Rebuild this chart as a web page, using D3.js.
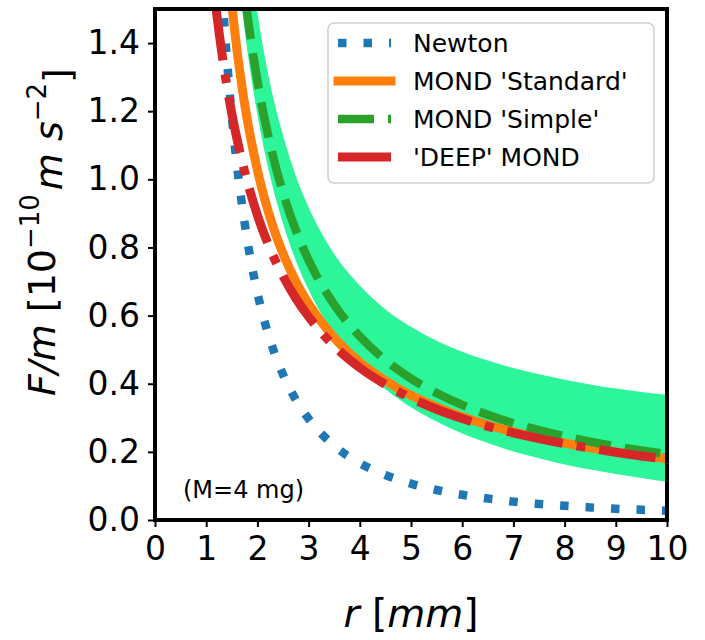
<!DOCTYPE html>
<html>
<head>
<meta charset="utf-8">
<script src="https://cdn.jsdelivr.net/npm/d3@7"></script>
<style>
  body { margin: 0; background: white; }
  text { font-family: "DejaVu Sans", sans-serif; font-weight: normal; }
</style>
</head>
<body>
<div id="chart"></div>
<script>
// radius in mm
var rValues = [1.0, 1.1, 1.2, 1.3, 1.4, 1.5, 1.6, 1.75, 2.0, 2.25, 2.5, 2.75, 3.0, 3.5, 4.0, 4.5,
  5.0, 5.5, 6.0, 6.5, 7.0, 7.5, 8.0, 8.5, 9.0, 9.5, 10.0];

// F/m values, in 1e-10 m s^-2
var newtonValues = [2.67, 2.206, 1.854, 1.580, 1.362, 1.187, 1.043, 0.872, 0.667, 0.527, 0.427, 0.353,
  0.297, 0.218, 0.167, 0.132, 0.107, 0.088, 0.074, 0.063, 0.054, 0.047, 0.042, 0.037, 0.033, 0.030, 0.027];
var standardValues = [2.890, 2.456, 2.128, 1.875, 1.675, 1.514, 1.381, 1.222, 1.027, 0.887, 0.782, 0.700,
  0.635, 0.535, 0.463, 0.409, 0.366, 0.332, 0.303, 0.279, 0.259, 0.241, 0.226, 0.212, 0.200, 0.190, 0.180];
var simpleValues = [3.567, 3.069, 2.683, 2.377, 2.129, 1.926, 1.756, 1.548, 1.289, 1.102, 0.961, 0.851,
  0.763, 0.632, 0.539, 0.469, 0.415, 0.373, 0.338, 0.309, 0.284, 0.264, 0.246, 0.230, 0.216, 0.204, 0.193];
var deepValues = [1.790, 1.627, 1.492, 1.377, 1.278, 1.193, 1.119, 1.023, 0.895, 0.795, 0.716, 0.651,
  0.597, 0.511, 0.447, 0.398, 0.358, 0.325, 0.298, 0.275, 0.256, 0.239, 0.224, 0.211, 0.199, 0.188, 0.179];

// shaded band around the 'Simple' curve
var bandUpper = [4.11, 3.53, 3.09, 2.73, 2.45, 2.21, 2.02, 1.78, 1.49, 1.28, 1.13, 1.01,
  0.918, 0.781, 0.688, 0.618, 0.567, 0.526, 0.494, 0.468, 0.446, 0.428, 0.412, 0.398, 0.386, 0.376, 0.367];
var bandLower = [3.29, 2.85, 2.50, 2.22, 1.99, 1.80, 1.64, 1.44, 1.19, 1.008, 0.870, 0.762,
  0.676, 0.545, 0.453, 0.384, 0.331, 0.289, 0.254, 0.226, 0.201, 0.181, 0.163, 0.148, 0.135, 0.123, 0.112];

var xTicks = [0, 1, 2, 3, 4, 5, 6, 7, 8, 9, 10];
var yTicks = [0.0, 0.2, 0.4, 0.6, 0.8, 1.0, 1.2, 1.4];
var seriesNames = ["Newton", "MOND 'Standard'", "MOND 'Simple'", "'DEEP' MOND"];
var noteText = "(M=4 mg)";

var width = 705;
var height = 640;
var margin = { left: 155, top: 9, right: 38, bottom: 120 };
var plotW = width - margin.left - margin.right;
var plotH = height - margin.top - margin.bottom;

var svg = d3.select("#chart")
  .append("svg")
    .attr("width", width)
    .attr("height", height);

var g = svg.append("g")
  .attr("transform", "translate(" + margin.left + "," + margin.top + ")");

var x = d3.scaleLinear().domain([0, 10]).range([0, plotW]);
var y = d3.scaleLinear().domain([0, 1.5]).range([plotH, 0]);

// clip everything to the axes box
svg.append("defs").append("clipPath")
  .attr("id", "plotclip")
  .append("rect")
    .attr("width", plotW)
    .attr("height", plotH);

var plot = g.append("g").attr("clip-path", "url(#plotclip)");

// band
var bandData = rValues.map(function (r, i) { return { r: r, lo: bandLower[i], hi: bandUpper[i] }; });
var area = d3.area()
  .x(function (d) { return x(d.r); })
  .y0(function (d) { return y(d.lo); })
  .y1(function (d) { return y(d.hi); })
  .curve(d3.curveMonotoneX);

plot.append("path")
  .datum(bandData)
  .attr("d", area)
  .attr("fill", "#2cf59a");

// the four curves
var series = [
  { name: seriesNames[0], values: newtonValues, color: "#1f77b4", lw: 8.5, dash: "8.5,17" },
  { name: seriesNames[1], values: standardValues, color: "#ff7f0e", lw: 9, dash: null },
  { name: seriesNames[2], values: simpleValues, color: "#2ca02c", lw: 8.5, dash: "36,14" },
  { name: seriesNames[3], values: deepValues, color: "#d62728", lw: 9, dash: "57,14,9,14" }
];

var line = d3.line()
  .x(function (d) { return x(d[0]); })
  .y(function (d) { return y(d[1]); })
  .curve(d3.curveMonotoneX);

series.forEach(function (s) {
  plot.append("path")
    .datum(rValues.map(function (r, i) { return [r, s.values[i]]; }))
    .attr("d", line)
    .attr("fill", "none")
    .attr("stroke", s.color)
    .attr("stroke-width", s.lw)
    .attr("stroke-dasharray", s.dash);
});

// axes
var xAxis = g.append("g")
  .attr("transform", "translate(0," + plotH + ")")
  .call(d3.axisBottom(x).tickValues(xTicks).tickSize(7).tickPadding(10).tickFormat(d3.format("d")));
var yAxis = g.append("g")
  .call(d3.axisLeft(y).tickValues(yTicks).tickSize(7).tickPadding(8).tickFormat(d3.format(".1f")));

[xAxis, yAxis].forEach(function (a) {
  a.select(".domain").remove();
  a.selectAll(".tick line").attr("stroke", "black").attr("stroke-width", 2);
  a.selectAll(".tick text")
    .attr("fill", "black")
    .style("font-size", "33px")
    .style("font-family", "DejaVu Sans, sans-serif");
});

// frame
g.append("rect")
  .attr("width", plotW)
  .attr("height", plotH)
  .attr("fill", "none")
  .attr("stroke", "black")
  .attr("stroke-width", 4);

// mass annotation
g.append("text")
  .attr("x", 28)
  .attr("y", 489)
  .style("font-size", "24px")
  .text(noteText);

// legend
var legend = svg.append("g").attr("transform", "translate(328,23)");
legend.append("rect")
  .attr("width", 326)
  .attr("height", 160)
  .attr("rx", 6)
  .attr("fill", "white")
  .attr("fill-opacity", 0.8)
  .attr("stroke", "#d0d0d0")
  .attr("stroke-width", 1.5);

series.forEach(function (s, i) {
  var ly = 20 + i * 38;
  legend.append("line")
    .attr("x1", 10)
    .attr("x2", 63)
    .attr("y1", ly)
    .attr("y2", ly)
    .attr("stroke", s.color)
    .attr("stroke-width", s.lw)
    .attr("stroke-linecap", s.dash ? "butt" : "square")
    .attr("stroke-dasharray", s.dash);
  legend.append("text")
    .attr("x", 85)
    .attr("y", ly)
    .attr("dy", "0.36em")
    .style("font-size", "25px")
    .text(s.name);
});

// axis labels
var ylab = svg.append("text")
  .attr("transform", "translate(55,232) rotate(-90)")
  .attr("text-anchor", "middle")
  .style("font-size", "38px");
ylab.append("tspan").style("font-style", "italic").text("F/m");
ylab.append("tspan").text(" [10");
ylab.append("tspan").attr("dy", "-0.62em").style("font-size", "26px").text("\u221210");
ylab.append("tspan").attr("dy", "0.62em").attr("dx", "4").style("font-style", "italic").text("m s");
ylab.append("tspan").attr("dy", "-0.62em").style("font-size", "26px").text("\u22122");
ylab.append("tspan").attr("dy", "0.62em").text("]");

var xlab = svg.append("text")
  .attr("x", margin.left + plotW / 2)
  .attr("y", 627)
  .attr("text-anchor", "middle")
  .style("font-size", "39px");
xlab.append("tspan").style("font-style", "italic").text("r");
xlab.append("tspan").text(" [");
xlab.append("tspan").style("font-style", "italic").text("mm");
xlab.append("tspan").text("]");
</script>
</body>
</html>
